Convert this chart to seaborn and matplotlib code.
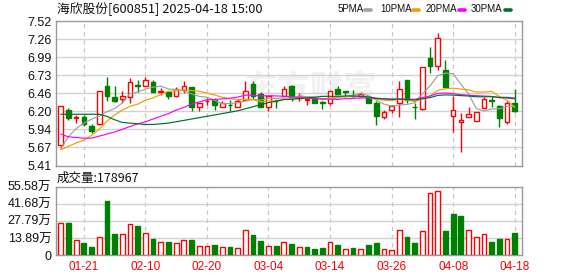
import numpy as np
import pandas as pd
import matplotlib
matplotlib.use("Agg")
import matplotlib.pyplot as plt
from matplotlib.lines import Line2D
import seaborn as sns

# ---------------- data ----------------
dates = ["01-16", "01-17", "01-20", "01-21", "01-22", "01-23", "01-24", "01-27",
         "02-05", "02-06", "02-07", "02-10", "02-11", "02-12", "02-13", "02-14",
         "02-17", "02-18", "02-19", "02-20", "02-21", "02-24", "02-25", "02-26",
         "02-27", "02-28", "03-03", "03-04", "03-05", "03-06", "03-07", "03-10",
         "03-11", "03-12", "03-13", "03-14", "03-17", "03-18", "03-19", "03-20",
         "03-21", "03-24", "03-25", "03-26", "03-27", "03-28", "03-31", "04-01",
         "04-02", "04-03", "04-07", "04-08", "04-09", "04-10", "04-11", "04-14",
         "04-15", "04-16", "04-17", "04-18"]

opens = [5.71, 6.22, 6.10, 6.12, 5.99, 6.02, 6.57, 6.41, 6.38, 6.41,
         6.59, 6.58, 6.63, 6.49, 6.49, 6.42, 6.51, 6.56, 6.27, 6.35,
         6.37, 6.27, 6.30, 6.26, 6.37, 6.60, 6.45, 6.26, 6.36, 6.43,
         6.57, 6.40, 6.37, 6.40, 6.34, 6.32, 6.53, 6.50, 6.43, 6.42,
         6.41, 6.32, 6.12, 6.22, 6.32, 6.66, 6.27, 6.24, 6.98, 6.87,
         6.81, 6.13, 6.04, 6.12, 6.06, 6.25, 6.37, 6.28, 6.04, 6.32]
highs = [6.28, 6.25, 6.15, 6.15, 6.02, 6.50, 6.71, 6.57, 6.50, 6.69,
         6.66, 6.70, 6.66, 6.54, 6.49, 6.56, 6.65, 6.56, 6.32, 6.40,
         6.40, 6.35, 6.37, 6.38, 6.65, 6.64, 6.49, 6.43, 6.39, 6.57,
         6.59, 6.47, 6.40, 6.40, 6.36, 6.50, 6.58, 6.50, 6.51, 6.48,
         6.43, 6.36, 6.22, 6.30, 6.64, 6.66, 6.32, 6.85, 7.14, 7.35,
         6.96, 6.43, 6.18, 6.26, 6.20, 6.41, 6.43, 6.29, 6.35, 6.53]
lows = [5.67, 6.07, 6.03, 5.99, 5.89, 6.00, 6.35, 6.34, 6.32, 6.32,
        6.48, 6.57, 6.48, 6.44, 6.38, 6.41, 6.47, 6.21, 6.21, 6.29,
        6.22, 6.26, 6.21, 6.26, 6.37, 6.38, 6.26, 6.21, 6.25, 6.43,
        6.35, 6.35, 6.30, 6.32, 6.23, 6.29, 6.46, 6.41, 6.41, 6.41,
        6.32, 6.00, 6.09, 6.18, 6.12, 6.32, 6.09, 6.22, 6.77, 6.81,
        6.56, 5.90, 5.61, 6.12, 6.06, 6.25, 6.26, 5.98, 6.01, 6.19]
closes = [6.28, 6.10, 6.12, 6.02, 5.92, 6.50, 6.42, 6.36, 6.42, 6.63,
          6.58, 6.66, 6.49, 6.50, 6.42, 6.53, 6.57, 6.27, 6.32, 6.36,
          6.30, 6.32, 6.29, 6.36, 6.50, 6.42, 6.26, 6.43, 6.35, 6.53,
          6.41, 6.42, 6.38, 6.33, 6.32, 6.50, 6.46, 6.49, 6.42, 6.46,
          6.32, 6.14, 6.20, 6.28, 6.53, 6.37, 6.26, 6.85, 6.87, 7.27,
          6.56, 6.22, 6.08, 6.16, 6.20, 6.38, 6.36, 6.10, 6.33, 6.21]
volumes_wan = [25.8, 26.0, 11.9, 9.8, 6.5, 14.4, 43.9, 17.1, 16.8, 24.9,
               23.6, 17.6, 13.0, 10.3, 10.6, 9.5, 12.2, 12.2, 7.1, 7.1,
               8.1, 6.2, 6.5, 5.4, 20.3, 16.3, 11.4, 7.1, 7.3, 10.3,
               9.0, 6.2, 6.5, 4.9, 5.7, 10.3, 8.1, 4.6, 5.7, 4.6,
               7.9, 9.5, 4.6, 3.8, 20.1, 14.4, 9.5, 19.3, 50.2, 51.8,
               19.5, 33.1, 31.7, 20.1, 14.4, 17.4, 10.3, 13.0, 12.7, 17.9]

# moving-average values before a full window is available
ma5_head = [5.66, 5.83, 5.95, 6.03]
ma10_head = [5.64, 5.69, 5.74, 5.78, 5.85, 5.94, 6.06, 6.15, 6.22]
ma20_head = [5.87, 5.83, 5.82, 5.81, 5.81, 5.84, 5.87, 5.90, 5.94, 5.98,
             6.02, 6.05, 6.09, 6.13, 6.17, 6.22, 6.26, 6.31, 6.34]
ma30_head = [6.16, 6.16, 6.16, 6.16, 6.16, 6.16, 6.13, 6.08, 6.04, 6.03,
             6.02, 6.01, 6.01, 6.02, 6.03, 6.05, 6.07, 6.09, 6.11, 6.13,
             6.15, 6.17, 6.19, 6.21, 6.24, 6.27, 6.30, 6.33, 6.35]

ma_names = ["5PMA", "10PMA", "20PMA", "30PMA"]
ma_windows = [5, 10, 20, 30]
price_tick_labels = ["5.41", "5.67", "5.94", "6.20", "6.46", "6.73", "6.99", "7.26", "7.52"]
price_min, price_max = 5.41, 7.52
vol_tick_labels = ["0", "13.89万", "27.79万", "41.68万", "55.58万"]
vol_max = 55.58
title_text = "海欣股份[600851] 2025-04-18 15:00"
vol_text = "成交量:178967"
watermark = "东方财富"

# ---------------- styling ----------------
sns.set_theme(style="white")
plt.rcParams["font.family"] = ["Liberation Sans", "Noto Sans CJK SC", "DejaVu Sans"]

RED = "#ff0000"
GREEN = "#008000"
MA_COLORS = {"5PMA": "#a0a0a0", "10PMA": "#f0a000", "20PMA": "#ff00ff", "30PMA": "#006f2e"}
SPINE = "#999999"
GRID = "#d2d2d2"

W, H = 578, 276
fig = plt.figure(figsize=(W / 100, H / 100), dpi=100)
fig.patch.set_facecolor("white")

def fx(px):
    return px / W

def fy(py):
    return 1 - py / H

L, R = 55.5, 522
ax1 = fig.add_axes([fx(L), fy(165.5), fx(R - L), (165.5 - 21.3) / H])
ax2 = fig.add_axes([fx(L), fy(255), fx(R - L), (255 - 186.7) / H])

n = len(dates)
x = np.arange(n)
o = np.array(opens); c = np.array(closes); h = np.array(highs); lo = np.array(lows)
v = np.array(volumes_wan)

up = c >= o
cand_col = np.where(up, RED, GREEN)
cand_face = np.where(up, "white", GREEN)
prev_close = np.concatenate([[o[0]], c[:-1]])
vol_up = c >= prev_close
vol_col = np.where(vol_up, RED, GREEN)
vol_face = np.where(vol_up, "white", GREEN)

# watermark
ax1.text(0.545, 0.52, watermark, transform=ax1.transAxes, ha="center", va="center",
         fontsize=24, color="#f1f1f1", fontweight="bold",
         family=["Noto Sans CJK SC", "DejaVu Sans"], zorder=0)

# candles
ax1.vlines(x, lo, h, colors=cand_col, linewidth=1.0, zorder=2)
body_h = np.maximum(np.abs(c - o), 0.004)
ax1.bar(x, body_h, bottom=np.minimum(o, c), width=0.6, color=cand_face,
        edgecolor=cand_col, linewidth=1.0, zorder=3)

# moving averages
close_s = pd.Series(c)
heads = [ma5_head, ma10_head, ma20_head, ma30_head]
frames = []
for name, win, head in zip(ma_names, ma_windows, heads):
    ma = close_s.rolling(win).mean().to_numpy()
    ma[:win - 1] = head
    frames.append(pd.DataFrame({"x": x, "value": ma, "ma": name}))
df_ma = pd.concat(frames, ignore_index=True)
sns.lineplot(data=df_ma, x="x", y="value", hue="ma", palette=MA_COLORS,
             ax=ax1, legend=False, linewidth=0.85, zorder=4, estimator=None, sort=False)

# volume
ax2.bar(x, v, width=0.62, color=vol_face, edgecolor=vol_col, linewidth=1.0, zorder=3)

# axes styling
tick_idx = list(range(3, n, 8))
for ax in (ax1, ax2):
    ax.set_xlim(-0.68, 59.95)
    ax.set_xlabel("")
    ax.set_ylabel("")
    for s in ax.spines.values():
        s.set_color(SPINE)
        s.set_linewidth(1.0)
        s.set_visible(True)
    ax.set_xticks(tick_idx)
    for t in tick_idx:
        ax.axvline(t, color="#c8c8c8", linewidth=0.9, linestyle=(0, (3.5, 3)), zorder=1)
    ax.tick_params(length=0, labelsize=8.5, colors="#111111")
    ax.set_facecolor("white")

ax1.set_ylim(price_min, price_max)
pt = np.linspace(price_min, price_max, len(price_tick_labels))
ax1.set_yticks(pt)
ax1.set_yticklabels(price_tick_labels)
for t in pt[1:-1]:
    ax1.axhline(t, color=GRID, linewidth=1.0, zorder=1)
ax1.tick_params(axis="y", pad=2.5, labelsize=9)
ax1.set_xticklabels([])

ax2.set_ylim(0, vol_max)
vt = np.linspace(0, vol_max, len(vol_tick_labels))
ax2.set_yticks(vt)
ax2.set_yticklabels(vol_tick_labels)
for t in vt[1:-1]:
    ax2.axhline(t, color=GRID, linewidth=1.0, zorder=1)
ax2.tick_params(axis="y", pad=3, labelsize=9)
ax2.set_xticklabels([dates[i] for i in tick_idx], color=RED, fontsize=8.5)
ax2.tick_params(axis="x", pad=4)

# title and labels
fig.text(fx(57), fy(9.5), title_text, ha="left", va="center", fontsize=9.2, color="#111111",
         family=["Noto Sans CJK SC", "DejaVu Sans"])
fig.text(fx(57), fy(178), vol_text, ha="left", va="center", fontsize=9, color="#111111",
         family=["Noto Sans CJK SC", "DejaVu Sans"])

# custom legend
leg_text_x = [338, 380, 425.5, 471]
leg_sw_x = [(365, 371), (413, 419), (459, 465), (505, 511)]
for name, tx, (s0, s1) in zip(ma_names, leg_text_x, leg_sw_x):
    fig.text(fx(tx), fy(9.5), name, ha="left", va="center", fontsize=7, color="#111111")
    fig.add_artist(Line2D([fx(s0), fx(s1)], [fy(9.5), fy(9.5)], color=MA_COLORS[name],
                          linewidth=2.6, transform=fig.transFigure))

fig.savefig("out.png", dpi=100, facecolor="white")
